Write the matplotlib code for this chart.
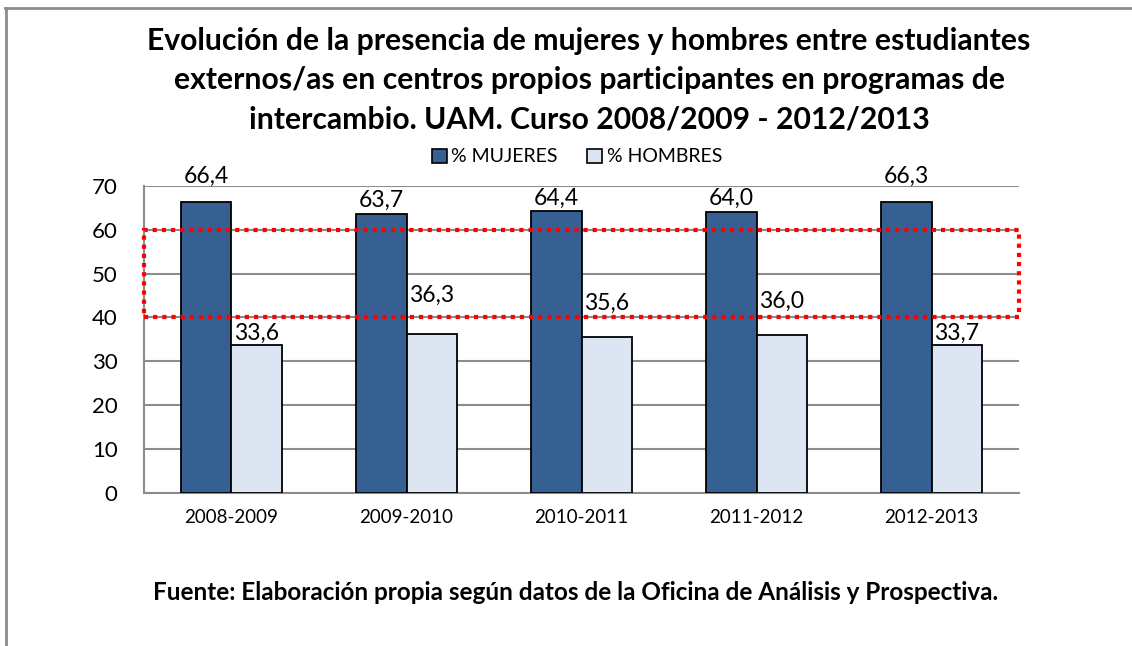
import matplotlib
matplotlib.use("Agg")
import matplotlib.pyplot as plt
from matplotlib.patches import Rectangle, Patch
from matplotlib.lines import Line2D
import numpy as np

plt.rcParams['font.family'] = ['Lato', 'DejaVu Sans']

# Curso academico y porcentajes por sexo
cursos = ["2008-2009", "2009-2010", "2010-2011", "2011-2012", "2012-2013"]
mujeres = [66.4, 63.7, 64.4, 64.0, 66.3]
hombres = [33.6, 36.3, 35.6, 36.0, 33.7]

# desplazamiento vertical de cada etiqueta (para no pisar la franja roja)
desp_m = [4.4, 1.6, 1.4, 1.8, 4.5]
desp_h = [1.3, 7.3, 6.2, 6.2, 1.2]

titulo = ("Evolución de la presencia de mujeres y hombres entre estudiantes\n"
          "externos/as en centros propios participantes en programas de\n"
          "intercambio. UAM. Curso 2008/2009 - 2012/2013")
fuente = "Fuente: Elaboración propia según datos de la Oficina de Análisis y Prospectiva."

color_m = "#376092"
color_h = "#DCE6F2"
gris = "#8C8C8C"

fig = plt.figure(figsize=(11.32, 6.46), dpi=100)
ax = fig.add_axes([0.1272, 0.2373, 0.7730, 0.4748])

x = np.arange(len(cursos))
w = 0.286
bars_m = ax.bar(x - w / 2, mujeres, width=w, color=color_m, edgecolor="black",
                linewidth=1.3, zorder=3)
bars_h = ax.bar(x + w / 2, hombres, width=w, color=color_h, edgecolor="black",
                linewidth=1.3, zorder=3)

def fmt(v):
    return f"{v:.1f}".replace(".", ",")

for b, v, d in zip(bars_m, mujeres, desp_m):
    ax.text(b.get_x() + b.get_width() / 2, v + d, fmt(v), ha="center",
            va="baseline", fontsize=16.5, zorder=5)
for b, v, d in zip(bars_h, hombres, desp_h):
    ax.text(b.get_x() + b.get_width() / 2, v + d, fmt(v), ha="center",
            va="baseline", fontsize=16.5, zorder=5)

ax.set_xlim(-0.5, 4.5)
ax.set_ylim(0, 70)
ax.set_yticks(range(0, 71, 10))
ax.set_xticks(x)
ax.set_xticklabels(cursos, fontsize=13.5)
ax.tick_params(axis="y", labelsize=16, length=0, pad=19)
ax.tick_params(axis="x", length=0, pad=12)
ax.yaxis.grid(True, color=gris, linewidth=1.5, zorder=0)
ax.set_axisbelow(True)
for s in ["top", "right"]:
    ax.spines[s].set_visible(False)
for s in ["left", "bottom"]:
    ax.spines[s].set_color(gris)
    ax.spines[s].set_linewidth(1.5)

# franja de paridad 40-60
ax.add_patch(Rectangle((-0.5, 40), 5.0, 20, fill=False, edgecolor="#FF0000",
                       linewidth=3, linestyle=(0, (1, 1.2)), zorder=6,
                       clip_on=False))

handles = [Patch(facecolor=color_m, edgecolor="black", linewidth=1.2),
           Patch(facecolor=color_h, edgecolor="black", linewidth=1.2)]
fig.legend(handles, ["% MUJERES", "% HOMBRES"], loc="center",
           bbox_to_anchor=(577 / 1132, 1 - 157 / 646), ncol=2, frameon=False,
           fontsize=14, handlelength=0.75, handleheight=0.75,
           handletextpad=0.25, columnspacing=1.5)

fig.text(589 / 1132, 1 - 80 / 646, titulo, ha="center", va="center",
         fontsize=21.7, fontweight="bold", linespacing=1.48)
fig.text(576 / 1132, 1 - 593 / 646, fuente, ha="center", va="center",
         fontsize=17.5, fontweight="bold")

# marco exterior
fig.add_artist(Line2D([5 / 1132, 1], [1 - 7.5 / 646] * 2, color=gris,
                      linewidth=2, transform=fig.transFigure))
fig.add_artist(Line2D([6 / 1132] * 2, [0, 1 - 7.5 / 646], color=gris,
                      linewidth=2, transform=fig.transFigure))

fig.savefig("out.png", dpi=100)
